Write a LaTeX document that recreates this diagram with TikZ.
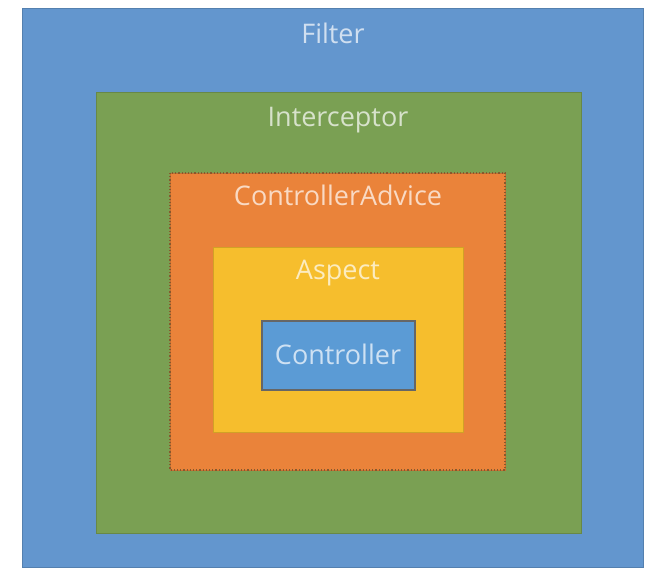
\documentclass[tikz,border=0pt]{standalone}
\usepackage{fontspec}
\setmainfont{Open Sans}
\definecolor{filterblue}{RGB}{99,150,206}
\definecolor{intergreen}{RGB}{122,160,83}
\definecolor{adviceorange}{RGB}{234,131,58}
\definecolor{aspectyellow}{RGB}{246,190,45}
\definecolor{ctrlblue}{RGB}{91,155,213}
\tikzset{
      layer/.style   = { fill=#1, draw=#1!85!black, line width=0.8pt },
      caption/.style = { font=\fontsize{27}{32}\selectfont, text=white!70!#1, inner sep=0pt, anchor=base },
      advice/.style  = { draw=brown!70!black, dotted, line width=1.2pt }
    }

\begin{document}
\begin{tikzpicture}[x=1pt, y=-1pt]
      \useasboundingbox[fill=white] (0,0) rectangle (649,570);

      % Draw all layers
      \path[layer=filterblue]   (22,8)    rectangle (643,567);
      \path[layer=intergreen]   (96,92)   rectangle (581,533);
      \path[layer=adviceorange] (170,173) rectangle (505,470);
      \draw[advice]             (170,173) rectangle (505,470);
      \path[layer=aspectyellow] (213,247) rectangle (463,432);
      \path[layer=ctrlblue, draw=black!60, line width=1.5pt] (262,321) rectangle (415,390);

      % Draw labels
      \node[caption=filterblue]   (filter)      at (333,43)  {Filter};
      \node[caption=intergreen]   (interceptor) at (338,126) {Interceptor};
      \node[caption=adviceorange] (advice)      at (338,205) {ControllerAdvice};
      \node[caption=aspectyellow] (aspect)      at (338,279) {Aspect};
      \node[caption=ctrlblue]     (controller)  at (338,364) {Controller};
\end{tikzpicture}
\end{document}
